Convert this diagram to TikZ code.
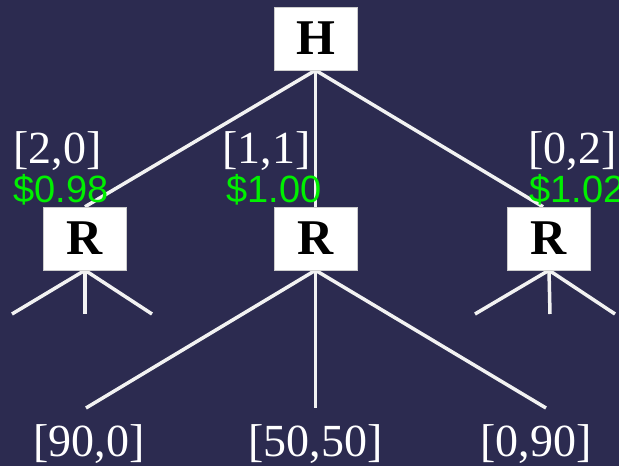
\documentclass[tikz,border=0pt]{standalone}
\usepackage{fontspec}
\setmainfont{Liberation Serif}
\newfontfamily\greenfont{Liberation Sans}
\definecolor{bgnavy}{HTML}{2C2B50}
\definecolor{payoff}{HTML}{00F000}
\definecolor{linew}{HTML}{F2F2F2}
\pgfdeclarelayer{bglayer}
\pgfdeclarelayer{edgelayer}
\pgfsetlayers{bglayer,edgelayer,main}
\begin{document}
\begin{tikzpicture}[x=1pt,y=-1pt,
  box/.style={fill=white,draw=gray!40,line width=0.5pt,minimum width=83pt,minimum height=63pt,inner sep=0pt,
    font=\fontsize{50}{54}\selectfont\bfseries,text=black},
  edge/.style={draw=linew,line width=3.5pt},
  vec/.style={text=white,inner sep=0pt,font=\fontsize{46}{50}\selectfont},
  money/.style={text=payoff,inner sep=0pt,font=\greenfont\fontsize{38}{42}\selectfont}]
\begin{pgfonlayer}{bglayer}
\fill[bgnavy] (0,0) rectangle (619,466);
\end{pgfonlayer}
\useasboundingbox (0,0) rectangle (619,466);
% boxes
\node[box] (H) at (315.5,38.5) {H};
\node[box] (Rl) at (85,238.5) {R};
\node[box] (Rm) at (315.5,238.5) {R};
\node[box] (Rr) at (549,238.5) {R};
% leaf coordinates
\coordinate (l1) at (12,314);
\coordinate (l2) at (85,314);
\coordinate (l3) at (152,314);
\coordinate (r1) at (475,314);
\coordinate (r2) at (550,314);
\coordinate (r3) at (615,314);
\coordinate (m1) at (86,408);
\coordinate (m2) at (315.5,408);
\coordinate (m3) at (546,408);
% edges
\begin{pgfonlayer}{edgelayer}
\draw[edge] (H.south) -- (Rl.north);
\draw[edge] (H.south) -- (Rm.north);
\draw[edge] (H.south) -- ([xshift=-6pt]Rr.north);
\draw[edge] (Rl.south) -- (l1);
\draw[edge] (Rl.south) -- (l2);
\draw[edge] (Rl.south) -- (l3);
\draw[edge] (Rr.south) -- (r1);
\draw[edge] (Rr.south) -- (r2);
\draw[edge] (Rr.south) -- (r3);
\draw[edge] (Rm.south) -- (m1);
\draw[edge] (Rm.south) -- (m2);
\draw[edge] (Rm.south) -- (m3);
\end{pgfonlayer}
% labels
\node[vec,anchor=base west] (t20) at (13,163) {[2,0]};
\node[vec,anchor=base west] (t11) at (222,163) {[1,1]};
\node[vec,anchor=base west] (t02) at (528,163) {[0,2]};
\node[money,anchor=base west] (p1) at (13,202) {\$0.98};
\node[money,anchor=base west] (p2) at (226,202) {\$1.00};
\node[money,anchor=base west] (p3) at (529,202) {\$1.02};
\node[vec,anchor=base] (b1) at (89,456) {[90,0]};
\node[vec,anchor=base] (b2) at (315.5,456) {[50,50]};
\node[vec,anchor=base] (b3) at (536,456) {[0,90]};
\end{tikzpicture}
\end{document}
